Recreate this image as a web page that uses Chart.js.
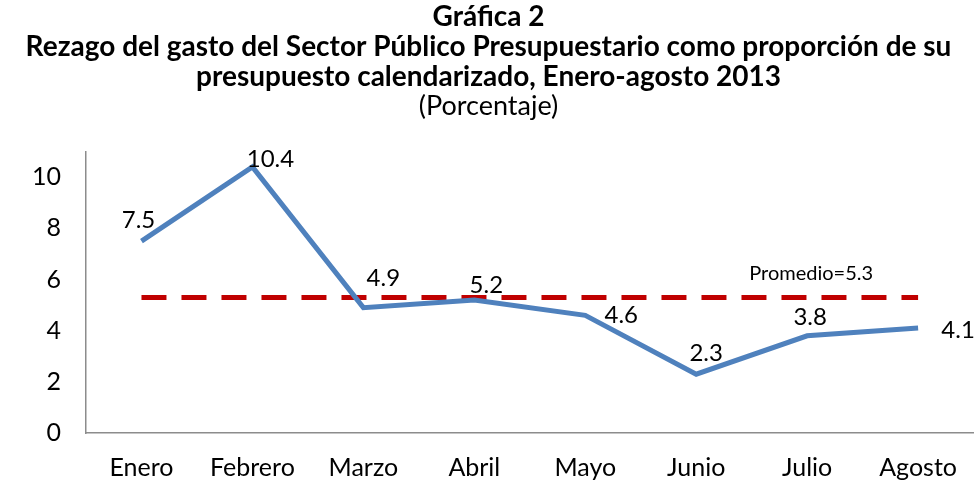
<!DOCTYPE html>
<html>
<head>
    <meta charset="utf-8">
    <title>Gráfica 2</title>
    <script src="https://cdn.jsdelivr.net/npm/chart.js@4.4.0/dist/chart.umd.min.js"></script>
    <style>
        body { margin: 0; background: #fff; }
    </style>
</head>
<body>
    <canvas id="chartCanvas" width="977" height="481"></canvas>

    <script>
        // Datos de la gráfica
        const meses = ['Enero', 'Febrero', 'Marzo', 'Abril', 'Mayo', 'Junio', 'Julio', 'Agosto'];
        const rezago = [7.5, 10.4, 4.9, 5.2, 4.6, 2.3, 3.8, 4.1];
        const promedio = [5.3, 5.3, 5.3, 5.3, 5.3, 5.3, 5.3, 5.3];
        const promedioTexto = 'Promedio=5.3';

        const fuente = 'Lato, "Open Sans", sans-serif';

        // Etiquetas de datos dibujadas a mano (no hay plugin de datalabels)
        const etiquetas = {
            id: 'etiquetas',
            afterDatasetsDraw(chart, args, opts) {
                const ctx = chart.ctx;
                const meta = chart.getDatasetMeta(0);
                ctx.save();
                ctx.font = '24px ' + fuente;
                ctx.fillStyle = '#000';
                ctx.textAlign = 'center';
                ctx.textBaseline = 'middle';
                meta.data.forEach((pt, i) => {
                    const d = opts.desplazamientos[i];
                    ctx.fillText(rezago[i].toFixed(1), pt.x + d[0], pt.y + d[1]);
                });
                // texto del promedio sobre Julio
                const p = chart.getDatasetMeta(1).data[6];
                ctx.font = '20px ' + fuente;
                ctx.fillText(promedioTexto, p.x + 4, p.y - 24);
                ctx.restore();
            }
        };

        const ctx = document.getElementById('chartCanvas').getContext('2d');
        const chart = new Chart(ctx, {
            type: 'line',
            data: {
                labels: meses,
                datasets: [
                    {
                        label: 'Rezago',
                        data: rezago,
                        borderColor: '#4F81BD',
                        borderWidth: 5,
                        pointRadius: 0,
                        tension: 0,
                    },
                    {
                        label: 'Promedio',
                        data: promedio,
                        borderColor: '#C00000',
                        borderWidth: 5,
                        borderDash: [25, 15],
                        pointRadius: 0,
                    },
                ],
            },
            options: {
                responsive: false,
                animation: false,
                layout: { padding: 0 },
                plugins: {
                    legend: { display: false },
                    tooltip: { enabled: false },
                    title: {
                        display: true,
                        text: [
                            'Gráfica 2',
                            'Rezago del gasto del Sector Público Presupuestario como proporción de su',
                            'presupuesto calendarizado, Enero-agosto 2013',
                        ],
                        color: '#000',
                        font: { family: fuente, size: 28, weight: 'bold', lineHeight: 1.07 },
                        padding: { top: 2, bottom: 0 },
                    },
                    subtitle: {
                        display: true,
                        text: '(Porcentaje)',
                        color: '#000',
                        font: { family: fuente, size: 27, lineHeight: 1.1 },
                        padding: { top: 0, bottom: 30 },
                    },
                    etiquetas: {
                        desplazamientos: [
                            [-3, -21], [18, -8], [20, -29], [12, -15],
                            [36, 0], [10, -21], [3, -19], [40, 2],
                        ],
                    },
                },
                scales: {
                    x: {
                        offset: true,
                        grid: { display: false, drawTicks: false },
                        border: { color: '#8c8c8c', width: 1.5 },
                        ticks: {
                            color: '#000',
                            font: { family: fuente, size: 25 },
                            padding: 20,
                            maxRotation: 0,
                        },
                        afterFit(scale) { scale.height = 48; },
                    },
                    y: {
                        min: 0,
                        max: 11,
                        grid: { display: false, drawTicks: false },
                        border: { color: '#8c8c8c', width: 1.5 },
                        afterBuildTicks(axis) {
                            axis.ticks = [0, 2, 4, 6, 8, 10].map(v => ({ value: v }));
                        },
                        ticks: {
                            color: '#000',
                            font: { family: fuente, size: 25 },
                            padding: 25,
                        },
                        afterFit(scale) { scale.width = 86; },
                    },
                },
            },
            plugins: [etiquetas],
        });
    </script>
</body>
</html>
